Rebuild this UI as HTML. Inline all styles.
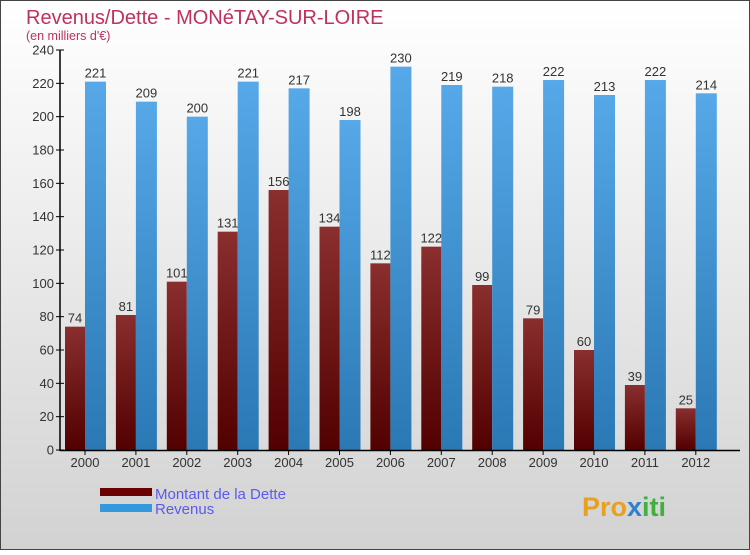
<!DOCTYPE html>
<html><head><meta charset="utf-8"><style>
body{margin:0}
#c{width:750px;height:550px;position:relative;font-family:"Liberation Sans","DejaVu Sans",sans-serif;}
</style></head><body>
<div id="c">
<svg id="s" width="750" height="550" xmlns="http://www.w3.org/2000/svg">
<defs>
<linearGradient id="bg" x1="0" y1="0" x2="0" y2="1"><stop offset="0" stop-color="#ffffff"/><stop offset="1" stop-color="#d2d2d2"/></linearGradient>
<linearGradient id="gd" x1="0" y1="0" x2="0" y2="1"><stop offset="0" stop-color="#8a2e2e"/><stop offset="1" stop-color="#520000"/></linearGradient>
<linearGradient id="gr" x1="0" y1="0" x2="0" y2="1"><stop offset="0" stop-color="#56a8e8"/><stop offset="1" stop-color="#2a78b4"/></linearGradient>
</defs>
<rect x="0.5" y="0.5" width="749" height="549" fill="url(#bg)" stroke="#444"/>
<text x="26" y="24" font-size="20" fill="#c03060">Revenus/Dette - MONéTAY-SUR-LOIRE</text>
<text x="26" y="40" font-size="12.5" fill="#c03060">(en milliers d'€)</text>
<g id="plot"></g>
<rect x="100" y="488" width="52" height="8" fill="#6a0000"/>
<rect x="100" y="504" width="52" height="8" fill="#3498dc"/>
<text x="155" y="499" font-size="15" fill="#5a5aee">Montant de la Dette</text>
<text x="155" y="514" font-size="15" fill="#5a5aee">Revenus</text>
<text x="582" y="516" font-size="27" font-weight="bold" fill="#e8a020">Pro<tspan fill="#3080d0">x</tspan><tspan fill="#40b040">iti</tspan></text>
</svg>
</div>
<script>
const years=["2000","2001","2002","2003","2004","2005","2006","2007","2008","2009","2010","2011","2012"];
const dette=[74,81,101,131,156,134,112,122,99,79,60,39,25];
const revenus=[221,209,200,221,217,198,230,219,218,222,213,222,214];
const yTicks=[0,20,40,60,80,100,120,140,160,180,200,220,240];
const NS="http://www.w3.org/2000/svg";
const g=document.getElementById('plot');
const y=v=>450-v*400/240;
const xc=i=>85+i*50.9;
function mk(t,a,p){const e=document.createElementNS(NS,t);for(const k in a)e.setAttribute(k,a[k]);(p||g).appendChild(e);return e;}
yTicks.forEach(v=>{
 const l=mk('line',{x1:56,x2:64,y1:y(v),y2:y(v),stroke:'#000'});
 
 
 const t=mk('text',{x:54,y:y(v)+4.5,'text-anchor':'end','font-size':13,fill:'#333'});
 t.textContent=v;
 
 
});
years.forEach((yr,i)=>{
 const c=xc(i);
 const b1=mk('rect',{x:c-20,y:y(dette[i]),width:20,height:450-y(dette[i]),fill:'url(#gd)'});
 
 
 const b2=mk('rect',{x:c,y:y(revenus[i]),width:21,height:450-y(revenus[i]),fill:'url(#gr)'});
 
 
 const t1=mk('text',{x:c-10,y:y(dette[i])-4,'text-anchor':'middle','font-size':13,fill:'#333'});
 t1.textContent=dette[i];
 
 
 const t2=mk('text',{x:c+10.5,y:y(revenus[i])-4,'text-anchor':'middle','font-size':13,fill:'#333'});
 t2.textContent=revenus[i];
 
 
 const tk=mk('line',{x1:c,x2:c,y1:450,y2:455,stroke:'#000'});
 
 
 const xl=mk('text',{x:c,y:467,'text-anchor':'middle','font-size':13,fill:'#333'});
 xl.textContent=yr;
 
 
});
const ax=mk('line',{x1:60,x2:60,y1:50,y2:451,stroke:'#000','stroke-width':1.5});


const bx=mk('line',{x1:60,x2:740,y1:450.5,y2:450.5,stroke:'#000','stroke-width':1.5});


</script>
</body></html>
